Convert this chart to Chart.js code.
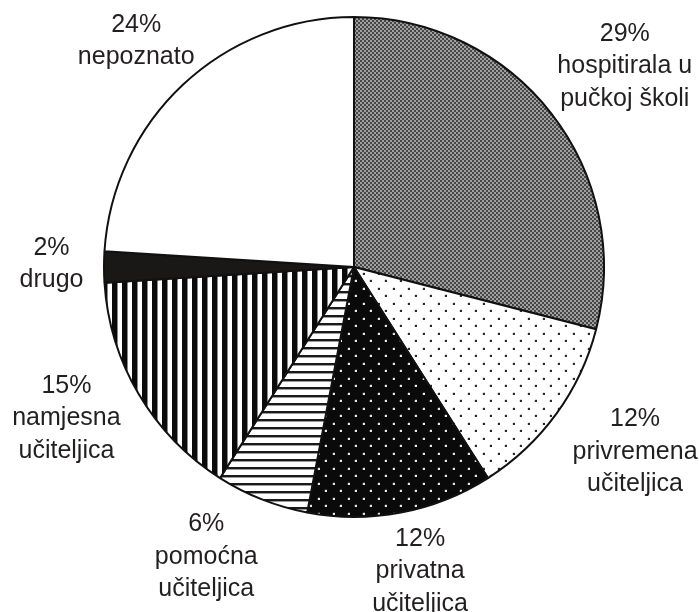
<!DOCTYPE html>
<html>
<head>
<meta charset="utf-8">
<script src="https://cdn.jsdelivr.net/npm/chart.js@4/dist/chart.umd.min.js"></script>
<style>
  html, body { margin: 0; padding: 0; background: #ffffff; }
  #wrap { width: 699px; height: 612px; }
</style>
</head>
<body>
<div id="wrap"><canvas id="c" width="699" height="612"></canvas></div>
<script>
// ---- data ----
const categories = [
  ["hospitirala u", "pučkoj školi"],
  ["privremena", "učiteljica"],
  ["privatna", "učiteljica"],
  ["pomoćna", "učiteljica"],
  ["namjesna", "učiteljica"],
  ["drugo"],
  ["nepoznato"]
];
const percentages = [29, 12, 12, 6, 15, 2, 24];

// ---- patterns ----
function makeTile(w, h, draw) {
  const c = document.createElement('canvas');
  c.width = w; c.height = h;
  const g = c.getContext('2d');
  draw(g, w, h);
  return document.getElementById('c').getContext('2d').createPattern(c, 'repeat');
}
const checker = makeTile(4, 4, (g) => {
  g.fillStyle = '#a0a0a0'; g.fillRect(0, 0, 4, 4);
  g.fillStyle = '#464646'; g.fillRect(0, 0, 2, 2); g.fillRect(2, 2, 2, 2);
});
const lightDots = makeTile(15, 15, (g) => {
  g.fillStyle = '#ffffff'; g.fillRect(0, 0, 15, 15);
  g.fillStyle = '#d8d8d8';
  g.fillRect(2, 3, 1, 2); g.fillRect(9, 10, 1, 2);
  g.fillRect(3, 2, 2, 1); g.fillRect(10, 9, 2, 1);
  g.fillStyle = '#2a2a2a';
  g.fillRect(3, 3, 2, 2); g.fillRect(10, 10, 2, 2);
});
const darkDots = makeTile(15, 15, (g) => {
  g.fillStyle = '#0a0a0a'; g.fillRect(0, 0, 15, 15);
  g.fillStyle = '#3a3a3a';
  g.fillRect(2, 3, 1, 2); g.fillRect(9, 10, 1, 2);
  g.fillRect(3, 2, 2, 1); g.fillRect(10, 9, 2, 1);
  g.fillStyle = '#e6e6e6';
  g.fillRect(3, 3, 2, 2); g.fillRect(10, 10, 2, 2);
});
const hLines = makeTile(8, 8, (g) => {
  g.fillStyle = '#ffffff'; g.fillRect(0, 0, 8, 8);
  g.fillStyle = '#1a1a1a'; g.fillRect(0, 3, 8, 2);
  g.fillStyle = '#999999'; g.fillRect(0, 5, 8, 1);
});
const vLines = makeTile(10, 10, (g) => {
  g.fillStyle = '#ffffff'; g.fillRect(0, 0, 10, 10);
  g.fillStyle = '#0a0a0a'; g.fillRect(2, 0, 5, 10);
  g.fillStyle = '#888888'; g.fillRect(7, 0, 1, 10);
});
const fills = [checker, lightDots, darkDots, hLines, vLines, '#1a1717', '#ffffff'];

// label placement: distance from pie centre in units of radius, plus small nudges
const labelDist = [1.31, 1.34, 1.24, 1.29, 1.29, 1.21, 1.29];
const labelNudge = [[12, 0], [10, -12], [8, 0], [-29, -10], [-10, -13], [0, -3], [3, 9]];

const labelPlugin = {
  id: 'outerLabels',
  afterDatasetsDraw(chart) {
    const ctx = chart.ctx;
    const meta = chart.getDatasetMeta(0);
    ctx.save();
    ctx.font = '25px "Liberation Sans", Arial, sans-serif';
    ctx.fillStyle = '#231f20';
    ctx.textAlign = 'center';
    ctx.textBaseline = 'middle';
    const lh = 32.5;
    meta.data.forEach((arc, i) => {
      const p = arc.getProps(['x', 'y', 'startAngle', 'endAngle', 'outerRadius'], true);
      const mid = (p.startAngle + p.endAngle) / 2;
      const r = p.outerRadius * labelDist[i];
      const cx = p.x + Math.cos(mid) * r + labelNudge[i][0];
      const cy = p.y + Math.sin(mid) * r + labelNudge[i][1];
      const lines = [percentages[i] + '%'].concat(categories[i]);
      const top = cy - (lines.length - 1) * lh / 2;
      lines.forEach((t, k) => ctx.fillText(t, cx, top + k * lh));
    });
    ctx.restore();
  }
};

new Chart(document.getElementById('c'), {
  type: 'pie',
  data: {
    labels: categories.map(c => c.join(' ')),
    datasets: [{
      data: percentages,
      backgroundColor: fills,
      borderColor: '#111111',
      borderWidth: 2,
      borderAlign: 'center'
    }]
  },
  options: {
    responsive: false,
    animation: false,
    layout: { padding: { left: 103, right: 94, top: 16, bottom: 94 } },
    plugins: { legend: { display: false }, tooltip: { enabled: false } }
  },
  plugins: [labelPlugin]
});
</script>
</body>
</html>
